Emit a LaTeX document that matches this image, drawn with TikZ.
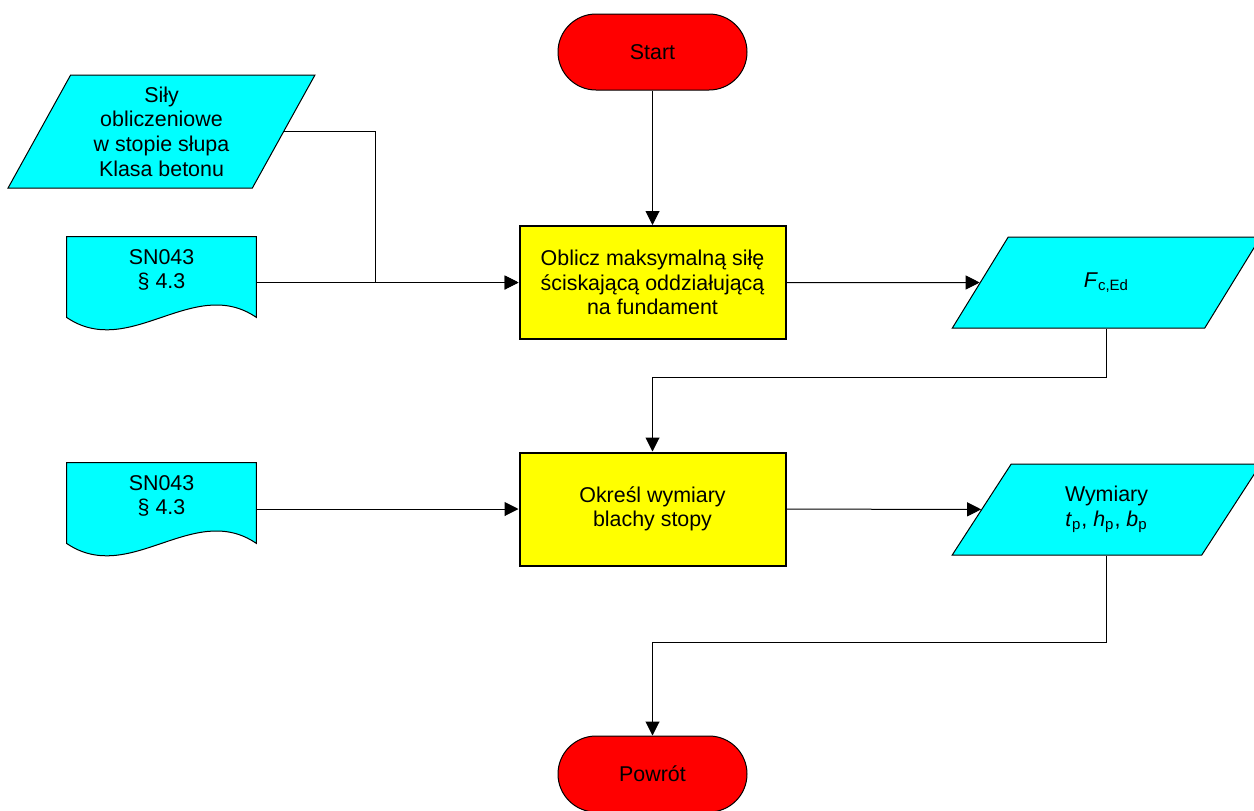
\documentclass[tikz,border=0pt]{standalone}
\usepackage{fontspec}
\setmainfont{Liberation Sans}
\usetikzlibrary{arrows.meta,shapes.geometric,calc,backgrounds}
\definecolor{termred}{RGB}{255,0,0}
\definecolor{procyellow}{RGB}{255,255,0}
\definecolor{iocyan}{RGB}{0,255,255}

\begin{document}
\begin{tikzpicture}[
        x=0.5pt, y=-0.5pt,
        every node/.style={font=\fontsize{10.7}{12.3}\selectfont, align=center},
        term/.style={draw, line width=0.5pt, fill=termred, rounded corners=19pt, minimum width=94.5pt, minimum height=38pt},
        proc/.style={draw, line width=1pt, fill=procyellow, minimum width=133pt, minimum height=56.5pt},
        io/.style={draw, line width=0.5pt, fill=iocyan, trapezium, trapezium left angle=63.5, trapezium right angle=116.5, trapezium stretches=true},
        doc/.style={minimum width=94.5pt, minimum height=33pt},
        docfill/.style={draw, line width=0.5pt, fill=iocyan},
        arr/.style={-{Triangle[length=7pt, width=7pt]}, line width=0.5pt, black}
    ]
        \useasboundingbox (0,0) rectangle (1254,810);

        % start i koniec
        \node[term] (start) at (652.5, 52) {Start};
        \node[term] (stop) at (652.5, 774) {Powrót};

        % dane wejściowe
        \node[io, minimum width=153.5pt, minimum height=56.5pt] (in) at (161.5, 131.5) {Siły\\obliczeniowe\\w stopie słupa\\Klasa betonu};
        \node[doc] (doc1) at (161.5, 270) {SN043\\§ 4.3};
        \node[doc] (doc2) at (161.5, 496) {SN043\\§ 4.3};

        % obliczenia
        \node[proc] (proc1) at (652.5, 282.5) {Oblicz maksymalną siłę\\ściskającą oddziałującą\\na fundament};
        \node[proc] (proc2) at (652.5, 509) {Określ wymiary\\blachy stopy};

        % wyniki
        \node[io, minimum width=154.5pt, minimum height=45.5pt] (fce) at (1106.5, 282.5) {\textit{F}\textsubscript{c,Ed}};
        \node[io, minimum width=154.5pt, minimum height=45.5pt] (wym) at (1106.5, 509.5) {Wymiary\\\textit{t}\textsubscript{p}, \textit{h}\textsubscript{p}, \textit{b}\textsubscript{p}};

        % dokumenty z falą
        \begin{scope}[on background layer]
            \foreach \d in {doc1,doc2}
                \draw[docfill] (\d.north west) -- (\d.north east) -- ($(\d.south east)+(0,14)$)
                    .. controls ($(\d.south east)+(-63,-29)$) and ($(\d.south west)+(63,57)$) .. ($(\d.south west)+(0,14)$) -- cycle;
        \end{scope}

        \coordinate (jn) at (375, 282.5);
        \coordinate (bend1) at (652.5, 377);
        \coordinate (bend2) at (652.5, 642);

        \draw[arr] (start) -- (proc1);
        \draw[arr] (in.east) -| (jn) -- (proc1.west);
        \draw[arr] (doc1.east |- proc1) -- (proc1);
        \draw[arr] (proc1) -- (fce);
        \draw[arr] (fce.south) |- (bend1) -- (proc2);
        \draw[arr] (doc2.east |- proc2) -- (proc2);
        \draw[arr] (proc2) -- (wym);
        \draw[arr] (wym.south) |- (bend2) -- (stop);
    \end{tikzpicture}
\end{document}
